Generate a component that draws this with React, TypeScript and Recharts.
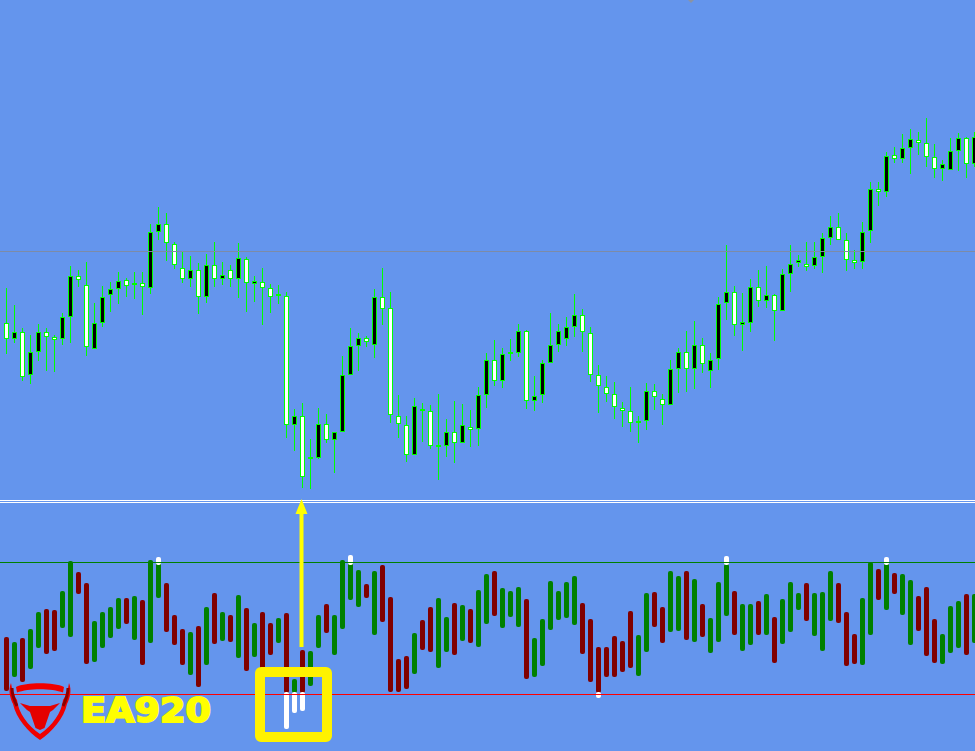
import React from "react";
import { ComposedChart, Bar, XAxis, YAxis, ReferenceLine } from "recharts";

// Price panel: one value per session, in chart points
const open = [177,161,168,125,148,168,163,161,183,224,215,151,177,205,211,220,216,217,212,268,276,256,232,221,230,203,235,221,230,221,241,216,218,212,205,204,75,84,42,42,76,
60,68,125,154,162,155,203,192,84,75,45,90,89,54,54,68,57,73,71,105,140,119,147,147,169,99,105,137,155,161,173,185,167,125,113,106,92,89,78,79,
109,101,95,131,148,131,155,129,141,197,208,175,177,213,199,205,189,226,237,236,234,243,262,273,260,240,238,269,311,308,345,341,352,360,357,343,331,330,349,362,336];
const close = [161,168,123,148,168,163,160,183,224,220,153,177,203,211,219,214,216,213,268,276,257,235,221,230,203,235,221,225,221,242,217,219,212,203,205,75,84,23,42,76,60,
68,125,154,162,158,203,191,85,76,45,94,90,54,54,68,57,75,70,105,140,119,146,147,169,99,104,137,155,169,173,185,168,125,114,106,93,89,77,78,109,
103,95,131,148,131,155,136,140,196,208,175,178,213,199,205,189,226,236,240,233,243,262,273,260,240,237,268,311,308,344,341,352,361,357,343,331,336,349,362,336,363];
const high = [212,195,172,165,176,172,165,187,234,230,238,197,214,218,228,222,228,228,276,293,287,258,249,244,237,246,258,238,235,257,243,224,232,216,215,208,91,97,61,92,86,
68,144,172,167,164,211,232,208,105,84,102,97,95,106,81,99,96,90,113,147,160,152,161,176,170,124,140,187,176,183,206,191,173,135,124,118,98,113,84,117,
116,106,140,152,169,179,162,147,203,255,214,207,221,230,234,206,231,255,245,258,258,267,284,287,267,250,278,318,318,348,353,366,371,368,382,356,340,362,367,363,368];
const low = [146,157,119,116,139,129,128,155,157,213,144,151,173,188,196,203,201,185,206,260,239,231,217,213,186,197,213,215,213,202,188,198,175,187,196,62,49,12,11,41,57,
27,68,125,129,153,142,175,77,62,38,45,58,51,20,43,37,57,53,54,92,114,112,139,143,91,89,97,137,148,154,163,148,118,87,98,81,73,68,57,70,
90,75,95,107,108,111,127,112,130,180,164,149,168,193,192,159,189,208,233,229,231,227,255,260,229,231,231,257,294,303,337,337,326,345,333,322,319,330,329,322,333];
const priceGridLevels = [248.5];

// Oscillator panel: top and bottom of each bar, and its direction
const oscTop = [57,52,56,65,82,85,84,103,133,122,111,73,82,87,96,96,98,94,134,133,111,79,65,62,68,87,101,82,79,99,86,71,82,71,76,81,15,44,43,79,90,79,
134,133,124,110,123,129,97,35,38,61,74,87,96,77,91,89,85,104,120,123,106,103,107,95,56,75,113,103,112,118,91,75,47,47,58,53,83,59,101,102,
87,123,118,123,115,90,76,112,130,103,90,90,93,100,77,95,112,101,111,101,102,123,111,82,60,96,132,125,131,121,120,114,98,107,75,60,88,93,100,100];
const oscBottom = [3,17,12,25,46,40,43,66,57,100,30,32,46,56,65,70,54,29,51,96,62,49,29,19,7,29,50,53,52,36,23,37,14,39,51,1,1,1,8,46,61,39,
65,94,87,96,59,72,2,2,5,20,44,42,26,42,39,53,51,47,70,78,66,77,67,15,17,28,64,74,76,69,40,12,1,17,17,22,26,18,42,67,
51,62,63,54,52,57,41,52,78,59,43,49,59,59,31,50,62,84,73,58,43,73,71,28,30,29,59,94,84,100,79,49,63,38,31,30,41,46,39,51];
const oscDirection = (
  "RGRGGRRGGR" + "RGGGGRGRGG" + "RRRGRGRGRG" + "RGRRGRGRGG" + "RGGGGRGRRR" + "RGRRGGRGRG" +
  "GRGGGRGGGG" + "GGRRRRRRRG" + "GRRGGRGRGG" + "GRGGRGRGGG" + "RGGGRRRGGR" + "GRGGRRRGGG" + "RG"
);
const signalBars = [19, 35, 36, 37, 43, 74, 90, 110];
const signalTop = [137, 2, 2, 2, 139, 2, 138, 137];
const signalBottom = [129, -35, -19, -17, 129, -4, 129, 129];
const oscLevels = [131.5, -0.5];
const oscLevelColors = ["#008000", "#ff0000"];

// The leading empty row lets the level lines run to the left edge of the picture.
const priceRows: any[] = [{ i: -1, wick: null, body: null, up: false }].concat(
  open.map((o, i) => ({
    i,
    wick: [low[i], high[i]],
    body: [Math.min(o, close[i]), Math.max(o, close[i])],
    up: close[i] > o,
  })) as any
);
const oscRows: any[] = [{ i: -1, bar: null, dir: "", signal: null }].concat(
  oscTop.map((t, i) => {
    const s = signalBars.indexOf(i);
    return {
      i,
      bar: [oscBottom[i], t],
      dir: oscDirection[i],
      signal: s >= 0 ? [signalBottom[s], signalTop[s]] : null,
    };
  }) as any
);

const Wick = (p: any) =>
  p.payload.wick ? <rect x={p.x} y={p.y} width={p.width} height={p.height} fill="#00ff00" shapeRendering="crispEdges" /> : null;
const Body = (p: any) => {
  if (!p.payload.body) return null;
  const h = p.height;
  const y = h < 2 ? p.y - 1 : p.y;
  return (
    <g shapeRendering="crispEdges">
      <rect x={p.x} y={y} width={p.width} height={Math.max(h, 2)} fill="#00ff00" />
      {h > 2 && <rect x={p.x + 1} y={p.y + 1} width={p.width - 2} height={h - 2} fill={p.payload.up ? "#000000" : "#ffffff"} />}
    </g>
  );
};
const OscBar = (p: any) =>
  p.payload.bar ? (
    <rect x={p.x} y={p.y} width={p.width} height={p.height} rx={2} fill={p.payload.dir === "G" ? "#008000" : "#800000"} />
  ) : null;
const SignalBar = (p: any) =>
  p.payload.signal ? <rect x={p.x} y={p.y} width={p.width} height={p.height} rx={2} fill="#ffffff" /> : null;

const panel = (top: number, height: number): React.CSSProperties => ({ position: "absolute", left: 0, top, width: 978, height });

export default function App() {
  return (
    <div style={{ position: "absolute", left: 0, top: 0, width: 975, height: 751, overflow: "hidden", background: "#6495ED" }}>
      <div style={panel(0, 500)}>
        <ComposedChart width={978} height={500} data={priceRows} margin={{ top: 0, right: 0, bottom: 0, left: -6 }}>
          <XAxis xAxisId="wick" dataKey="i" hide />
          <XAxis xAxisId="body" dataKey="i" hide />
          <YAxis domain={[0, 500]} hide />
          {priceGridLevels.map((v) => (
            <ReferenceLine key={v} xAxisId="wick" y={v} stroke="#7d8ba6" strokeWidth={1} />
          ))}
          <Bar xAxisId="wick" dataKey="wick" barSize={1} shape={Wick} isAnimationActive={false} />
          <Bar xAxisId="body" dataKey="body" barSize={5} shape={Body} isAnimationActive={false} />
        </ComposedChart>
      </div>
      <div style={panel(500, 251)}>
        <ComposedChart width={978} height={251} data={oscRows} margin={{ top: 0, right: 0, bottom: 0, left: -6 }}>
          <XAxis xAxisId="osc" dataKey="i" hide />
          <XAxis xAxisId="sig" dataKey="i" hide />
          <YAxis domain={[-57, 194]} hide />
          <Bar xAxisId="osc" dataKey="bar" barSize={5} shape={OscBar} isAnimationActive={false} />
          <Bar xAxisId="sig" dataKey="signal" barSize={5} shape={SignalBar} isAnimationActive={false} />
          {oscLevels.map((v, k) => (
            <ReferenceLine key={v} xAxisId="osc" y={v} stroke={oscLevelColors[k]} strokeWidth={1} />
          ))}
        </ComposedChart>
      </div>
      <svg width={975} height={751} style={{ position: "absolute", left: 0, top: 0, pointerEvents: "none" }}>
        <defs>
          <filter id="soft" x="-10%" y="-10%" width="120%" height="120%">
            <feGaussianBlur stdDeviation="0.5" />
          </filter>
        </defs>
        <polygon points="688,0 694,0 691,3" fill="#8a93a3" />
        <g shapeRendering="crispEdges">
          <rect x={0} y={500} width={975} height={1} fill="#ffffff" />
          <rect x={0} y={502} width={975} height={1} fill="#ffffff" />
        </g>
        <rect x={299.5} y={512} width={4} height={135} fill="#ffff00" />
        <polygon points="301.5,499 295.5,514 307.5,514" fill="#ffff00" />
        <rect x={260} y={672} width={67} height={65} rx={1} fill="none" stroke="#fff200" strokeWidth={10} />
        <g filter="url(#soft)">
          <path d="M11,683 C8,690 10,698 13,704 C16,718 28,732 40,740 C52,732 64,718 67,704 C70,698 72,690 69,683 C68,690 66,696 63,700 C62,712 52,726 40,734 C28,726 18,712 17,700 C14,696 12,690 11,683 Z" fill="#ee0000" />
          <path d="M12,688 C12,695 14,700 17,706 M68,688 C68,695 66,700 63,706" fill="none" stroke="#8a0000" strokeWidth={3} />
          <path d="M16,687 C26,682 54,682 64,687 L63,692.5 C52,688 28,688 17,692.5 Z" fill="#f00000" />
          <path d="M20,703 L30,706 L50,706 L60,703 L53,710 L50,712 L44.5,728 L40,730 L35.5,728 L30,712 L27,710 Z" fill="#e40000" />
        </g>
        <text x={81} y={721.5} fontFamily="DejaVu Sans" fontWeight={700} fontSize={34} fill="#ffff00" stroke="#ffff00" strokeWidth={2} textLength={130} lengthAdjust="spacingAndGlyphs">
          EA920
        </text>
      </svg>
    </div>
  );
}
